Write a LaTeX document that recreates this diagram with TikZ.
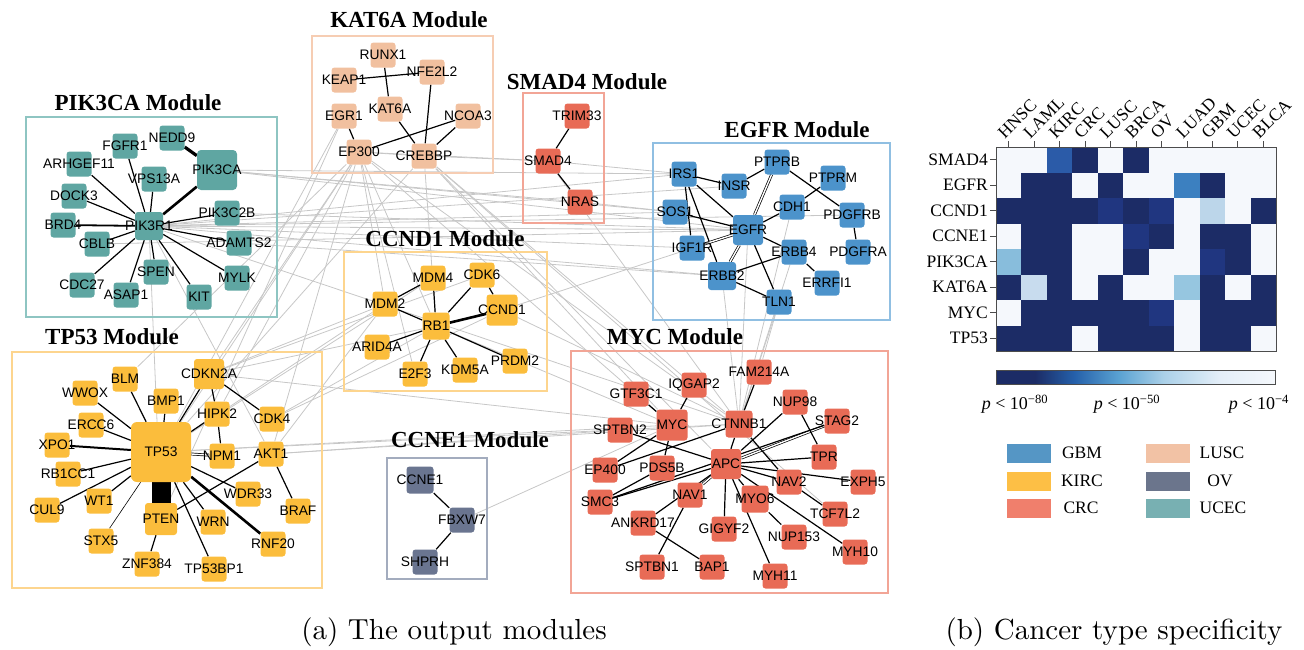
\documentclass[tikz,border=0pt]{standalone}
\usepackage{fontspec}
\newfontfamily\sansf{Liberation Sans}
\newfontfamily\serff{Liberation Serif}
\newfontfamily\capfont{lmroman10-regular.otf}
\usetikzlibrary{positioning}

\definecolor{ucec}{HTML}{5FA6A2}
\definecolor{kirc}{HTML}{FBBD3C}
\definecolor{crc}{HTML}{E86B56}
\definecolor{gbm}{HTML}{4C93CB}
\definecolor{lusc}{HTML}{F1C09F}
\definecolor{ov}{HTML}{6A7590}
\definecolor{ucecfr}{HTML}{8EC5C2}
\definecolor{kircfr}{HTML}{FDD58E}
\definecolor{crcfr}{HTML}{F2A596}
\definecolor{gbmfr}{HTML}{90BFE2}
\definecolor{luscfr}{HTML}{F6CDB3}
\definecolor{ovfr}{HTML}{A3ACBE}
\definecolor{lgbm}{HTML}{5596C5}
\definecolor{lkirc}{HTML}{FDBF45}
\definecolor{lcrc}{HTML}{F07F6C}
\definecolor{llusc}{HTML}{F2C2A5}
\definecolor{lov}{HTML}{6B758C}
\definecolor{lucec}{HTML}{78B0B2}
% heatmap cells
\definecolor{hmd}{HTML}{1C2C66}
\definecolor{hme}{HTML}{203680}
\definecolor{hma}{HTML}{2B5BA8}
\definecolor{hmb}{HTML}{3C80C0}
\definecolor{hml}{HTML}{BCD6EA}
\definecolor{hmp}{HTML}{88BDDC}
\definecolor{hmq}{HTML}{C8DCEE}
\definecolor{hmr}{HTML}{96C6E0}
\definecolor{hmw}{HTML}{F5F8FC}
\definecolor{cb1}{HTML}{2560AA}
\definecolor{cb2}{HTML}{5AA2D2}
\definecolor{cb3}{HTML}{AAD0E8}
\definecolor{cb4}{HTML}{E3EEF8}
\pgfdeclarehorizontalshading{cbar}{100bp}{color(0bp)=(hmd); color(25bp)=(hmd);
  color(32bp)=(hmd); color(39bp)=(cb1); color(47bp)=(cb2); color(55bp)=(cb3);
  color(65bp)=(cb4); color(75bp)=(hmw); color(100bp)=(hmw)}

\pgfdeclarelayer{edges}
\pgfsetlayers{edges,main}

% one gene box with its name on top
\newcommand{\gene}[4][]{\node[gene, fill=#4, #1, label={[glab]center:#2}] (#2) at (#3) {};}

\begin{document}
\begin{tikzpicture}[x=1pt, y=-1pt,
  gene/.style={rounded corners=3pt, minimum size=25pt, inner sep=0pt},
  glab/.style={font=\sansf\fontsize{13.8}{14}\selectfont, inner sep=0pt},
  modbox/.style={line width=2pt},
  modtitle/.style={font=\serff\bfseries\fontsize{23}{24}\selectfont},
  ppi/.style={line width=1.2pt},
  xlink/.style={line width=0.8pt, black!22},
  dbl/.style={double, double distance=1.4pt, line width=0.7pt},
  hmlab/.style={font=\serff\fontsize{17.5}{18}\selectfont, inner sep=1pt},
  swatch/.style={minimum width=45pt, minimum height=20pt, inner sep=0pt, draw=white, line width=0.6pt}]
\useasboundingbox (0,0) rectangle (1304,649);

% module frames and titles
\draw[modbox, ucecfr] (26,117) rectangle (277,317);
\node[modtitle] (t-pik3ca) at (138,103) {PIK3CA Module};
\draw[modbox, luscfr] (312,36) rectangle (493,173);
\node[modtitle] (t-kat6a) at (409,20) {KAT6A Module};
\draw[modbox, crcfr] (523,93) rectangle (604,223);
\node[modtitle] (t-smad4) at (587,82) {SMAD4 Module};
\draw[modbox, gbmfr] (653,143) rectangle (890,320);
\node[modtitle] (t-egfr) at (797,130) {EGFR Module};
\draw[modbox, kircfr] (344,252) rectangle (547,391);
\node[modtitle] (t-ccnd1) at (445,239) {CCND1 Module};
\draw[modbox, kircfr] (12,352) rectangle (322,588);
\node[modtitle] (t-tp53) at (112,337) {TP53 Module};
\draw[modbox, ovfr] (387,458) rectangle (487,579);
\node[modtitle] (t-ccne1) at (470,440) {CCNE1 Module};
\draw[modbox, crcfr] (571,351) rectangle (888,593);
\node[modtitle] (t-myc) at (675,337) {MYC Module};

% PIK3CA module
\gene{NEDD9}{172,138}{ucec}
\gene{FGFR1}{125,146}{ucec}
\gene[minimum size=40pt, rounded corners=4pt]{PIK3CA}{217,170}{ucec}
\gene{ARHGEF11}{79,164}{ucec}
\gene{VPS13A}{154,179}{ucec}
\gene{DOCK3}{74,196}{ucec}
\gene[minimum size=28pt]{PIK3R1}{149,226}{ucec}
\gene{PIK3C2B}{227,213}{ucec}
\gene{BRD4}{63,225}{ucec}
\gene{CBLB}{97,244}{ucec}
\gene{ADAMTS2}{239,243}{ucec}
\gene{SPEN}{156,272}{ucec}
\gene{MYLK}{237,278}{ucec}
\gene{CDC27}{82,285}{ucec}
\gene{ASAP1}{126,295}{ucec}
\gene{KIT}{199,297}{ucec}

% KAT6A module
\gene{RUNX1}{383,55}{lusc}
\gene{NFE2L2}{432,72}{lusc}
\gene{KEAP1}{344,80}{lusc}
\gene{EGR1}{344,116}{lusc}
\gene{KAT6A}{390,109}{lusc}
\gene{NCOA3}{468,116}{lusc}
\gene{EP300}{359,152}{lusc}
\gene{CREBBP}{424,156}{lusc}

% SMAD4 module
\gene{TRIM33}{577,116}{crc}
\gene{SMAD4}{548,161}{crc}
\gene{NRAS}{580,202}{crc}

% EGFR module
\gene{PTPRB}{777,162}{gbm}
\gene{IRS1}{684,174}{gbm}
\gene{INSR}{734,186}{gbm}
\gene{PTPRM}{833,178}{gbm}
\gene{CDH1}{792,207}{gbm}
\gene{SOS1}{675,212}{gbm}
\gene{PDGFRB}{852,215}{gbm}
\gene[minimum size=30pt]{EGFR}{748,230}{gbm}
\gene{IGF1R}{692,248}{gbm}
\gene{ERBB4}{794,252}{gbm}
\gene{PDGFRA}{858,252}{gbm}
\gene[minimum size=28pt]{ERBB2}{722,276}{gbm}
\gene{ERRFI1}{827,283}{gbm}
\gene{TLN1}{779,302}{gbm}

% CCND1 module
\gene{MDM4}{433,278}{kirc}
\gene{CDK6}{482,275}{kirc}
\gene[minimum size=31pt]{CCND1}{502,310}{kirc}
\gene{MDM2}{385,304}{kirc}
\gene[minimum size=27pt]{RB1}{436,326}{kirc}
\gene{ARID4A}{377,347}{kirc}
\gene{PRDM2}{515,361}{kirc}
\gene{KDM5A}{465,370}{kirc}
\gene{E2F3}{415,374}{kirc}

% TP53 module
\gene[minimum size=30pt]{CDKN2A}{209,374}{kirc}
\gene{BLM}{125,379}{kirc}
\gene{WWOX}{85,393}{kirc}
\gene{BMP1}{166,401}{kirc}
\gene{HIPK2}{217,414}{kirc}
\gene{CDK4}{272,419}{kirc}
\gene{ERCC6}{91,425}{kirc}
\gene[minimum size=60pt, rounded corners=6pt]{TP53}{161,452}{kirc}
\gene{XPO1}{57,445}{kirc}
\gene{NPM1}{222,456}{kirc}
\gene{AKT1}{271,454}{kirc}
\gene{RB1CC1}{68,474}{kirc}
\gene{WDR33}{248,494}{kirc}
\gene{WT1}{99,501}{kirc}
\gene{CUL9}{47,510}{kirc}
\gene[minimum size=32pt]{PTEN}{161,519}{kirc}
\gene{BRAF}{298,511}{kirc}
\gene{WRN}{213,522}{kirc}
\gene{STX5}{101,541}{kirc}
\gene{RNF20}{273,544}{kirc}
\gene{ZNF384}{147,564}{kirc}
\gene{TP53BP1}{214,569}{kirc}

% CCNE1 module
\gene[minimum size=27pt]{CCNE1}{420,480}{ov}
\gene{FBXW7}{462,520}{ov}
\gene{SHPRH}{425,562}{ov}

% MYC module
\gene{FAM214A}{759,372}{crc}
\gene{IQGAP2}{694,385}{crc}
\gene{GTF3C1}{636,394}{crc}
\gene{NUP98}{795,402}{crc}
\gene{STAG2}{837,421}{crc}
\gene[minimum size=31pt]{MYC}{672,425}{crc}
\gene[minimum size=27pt]{CTNNB1}{739,424}{crc}
\gene{SPTBN2}{620,430}{crc}
\gene{TPR}{824,457}{crc}
\gene[minimum size=30pt]{APC}{726,464}{crc}
\gene{PDS5B}{662,468}{crc}
\gene{EP400}{605,470}{crc}
\gene{NAV2}{789,482}{crc}
\gene{EXPH5}{863,482}{crc}
\gene{SMC3}{600,502}{crc}
\gene{NAV1}{690,495}{crc}
\gene[minimum size=27pt]{MYO6}{755,499}{crc}
\gene{TCF7L2}{835,514}{crc}
\gene{ANKRD17}{643,523}{crc}
\gene{GIGYF2}{724,529}{crc}
\gene{NUP153}{794,537}{crc}
\gene{MYH10}{855,552}{crc}
\gene{SPTBN1}{652,567}{crc}
\gene{BAP1}{712,567}{crc}
\gene{MYH11}{775,576}{crc}

\begin{pgfonlayer}{edges}
% links between modules
\foreach \a/\b in {PIK3CA/IRS1, PIK3CA/SOS1, PIK3CA/EGFR, PIK3CA/NRAS, PIK3R1/IRS1,
    PIK3R1/SOS1, PIK3R1/EGFR, PIK3R1/ERBB2, PIK3R1/IGF1R, PIK3R1/PDGFRB, PIK3R1/INSR,
    PIK3R1/CTNNB1, PIK3R1/AKT1, PIK3R1/PTEN, PIK3C2B/EGFR, CBLB/EGFR, ADAMTS2/ERBB2,
    EP300/TP53, EP300/CDKN2A, EP300/MDM2, EP300/RB1, EP300/HIPK2, EP300/MYC,
    EP300/CTNNB1, EP300/E2F3, EP300/AKT1, EP300/SMAD4, EP300/CREBBP, EP300/BLM,
    CREBBP/CTNNB1, CREBBP/MYC, CREBBP/SMAD4, CREBBP/TP53, CREBBP/TCF7L2, CREBBP/RB1,
    CREBBP/APC, EGR1/TP53, EGR1/PTEN, NRAS/SOS1, SMAD4/CTNNB1, SMAD4/IRS1,
    CDKN2A/MDM2, CDKN2A/CDK6, CDKN2A/RB1, CDK4/CCND1, CDK4/RB1, AKT1/MDM2,
    TP53/MDM2, TP53/MDM4, CCND1/CTNNB1, FBXW7/MYC, CTNNB1/EGFR, CTNNB1/CDH1,
    CTNNB1/ERBB2, CTNNB1/TLN1, CTNNB1/ERBB4, FAM214A/TLN1, MYC/TP53, CTNNB1/TP53,
    CTNNB1/AKT1, MYC/CDKN2A, SPTBN2/AKT1, RB1/MYC, CCND1/EGFR}
  \draw[xlink] (\a) -- (\b);
% PIK3CA module
\foreach \b in {FGFR1, ARHGEF11, VPS13A, DOCK3, CBLB, PIK3C2B, ADAMTS2, SPEN, MYLK,
    CDC27, ASAP1, KIT}
  \draw[ppi] (PIK3R1) -- (\b);
\draw[ppi, line width=1.8pt] (PIK3R1) -- (BRD4);
\draw[ppi, line width=2.6pt] (PIK3R1) -- (PIK3CA);
\draw[ppi, line width=3.2pt] (NEDD9) -- (PIK3CA);
% KAT6A and SMAD4 modules
\foreach \a/\b in {KEAP1/NFE2L2, RUNX1/KAT6A, NFE2L2/CREBBP, KAT6A/CREBBP, EGR1/EP300,
    EP300/NCOA3, NCOA3/CREBBP, TRIM33/SMAD4, SMAD4/NRAS}
  \draw[ppi] (\a) -- (\b);
% EGFR module
\foreach \a/\b in {IRS1/INSR, IRS1/EGFR, IRS1/IGF1R, IRS1/ERBB2, INSR/PTPRB,
    PTPRB/PDGFRB, PTPRM/CDH1, CDH1/EGFR, SOS1/EGFR, EGFR/ERBB4, EGFR/TLN1,
    ERBB4/ERBB2, ERBB4/ERRFI1, ERBB2/TLN1, PDGFRB/PDGFRA}
  \draw[ppi] (\a) -- (\b);
\foreach \a/\b in {PTPRB/EGFR, EGFR/IGF1R, EGFR/ERBB2}
  \draw[dbl] (\a) -- (\b);
% CCND1 module
\foreach \b in {MDM4, CDK6, MDM2, ARID4A, PRDM2, KDM5A, E2F3}
  \draw[ppi] (RB1) -- (\b);
\draw[ppi] (MDM2) -- (MDM4);
\draw[ppi] (CDK6) -- (CCND1);
\draw[ppi, line width=2.6pt] (RB1) -- (CCND1);
% TP53 module
\foreach \b in {BLM, WWOX, BMP1, ERCC6, RB1CC1, CUL9, WT1, WRN, TP53BP1, WDR33, HIPK2,
    CDKN2A}
  \draw[ppi] (TP53) -- (\b);
\draw[ppi, line width=2pt] (TP53) -- (XPO1);
\draw[ppi, line width=2.6pt] (TP53) -- (RNF20);
\draw[ppi, line width=0.6pt] (TP53) -- (STX5);
\draw[dbl] (TP53) -- (NPM1);
\draw[line width=19pt] (TP53) -- (PTEN);
\foreach \a/\b in {CDKN2A/HIPK2, CDKN2A/CDK4, HIPK2/NPM1, AKT1/PTEN, AKT1/BRAF,
    PTEN/ZNF384}
  \draw[ppi] (\a) -- (\b);
% CCNE1 module
\draw[ppi] (CCNE1) -- (FBXW7);
\draw[ppi] (FBXW7) -- (SHPRH);
% MYC module
\foreach \b in {CTNNB1, SPTBN2, NUP98, TPR, EXPH5, NAV2, SMC3, NAV1, ANKRD17, GIGYF2,
    MYO6, MYH11, MYH10}
  \draw[ppi] (APC) -- (\b);
\draw[dbl] (APC) -- (STAG2);
\draw[dbl] (APC) -- (NAV1);
\foreach \a/\b in {MYC/IQGAP2, MYC/GTF3C1, MYC/EP400, MYC/PDS5B, CTNNB1/FAM214A,
    CTNNB1/EP400, CTNNB1/NAV2, NUP98/TPR, NAV2/TCF7L2, MYO6/NUP153, NAV1/SPTBN1,
    ANKRD17/BAP1, SMC3/PDS5B, SMC3/STAG2}
  \draw[ppi] (\a) -- (\b);
\end{pgfonlayer}

% heat map
\foreach \row [count=\i from 0] in {{w,w,a,d,w,d,w,w,w,w,w}, {w,d,d,w,d,w,w,b,d,w,w},
    {d,d,d,d,e,d,e,w,l,w,d}, {w,d,d,w,w,e,d,w,d,d,w}, {p,d,d,w,w,d,w,w,e,d,w},
    {d,q,d,w,d,w,w,r,d,w,d}, {w,d,d,d,d,d,e,w,d,d,d}, {d,d,d,w,d,d,d,w,d,d,w}}
  \foreach \c [count=\j from 0] in \row
    \fill[hm\c] ({996+\j*25.45},{147+\i*25.5}) rectangle ++(25.6,25.7);
\draw[black!70, line width=0.6pt] (996,147) rectangle (1276,351);
\foreach \g [count=\i from 0] in {SMAD4, EGFR, CCND1, CCNE1, PIK3CA, KAT6A, MYC, TP53} {
  \draw[black!70, line width=0.6pt] (990,{159.75+\i*25.5}) -- (996,{159.75+\i*25.5});
  \node[hmlab, anchor=east] (row-\g) at (989,{159.75+\i*25.5}) {\g};
}
\foreach \t [count=\j from 0] in {HNSC, LAML, KIRC, CRC, LUSC, BRCA, OV, LUAD, GBM, UCEC, BLCA} {
  \draw[black!70, line width=0.6pt] ({1008.7+\j*25.45},141) -- ({1008.7+\j*25.45},147);
  \node[hmlab, anchor=base west, rotate=45] (col-\t) at ({1004+\j*25.45},140) {\t};
}

% colour bar
\shade[shading=cbar] (996,370) rectangle (1275,384);
\draw[black!70, line width=0.6pt] (996,370) rectangle (1275,384);
\node[font=\serff\fontsize{18}{18}\selectfont] (p80) at (1015,404) {\textit{p} < 10\textsuperscript{−80}};
\node[font=\serff\fontsize{18}{18}\selectfont] (p50) at (1127,404) {\textit{p} < 10\textsuperscript{−50}};
\node[font=\serff\fontsize{18}{18}\selectfont] (p4) at (1259,404) {\textit{p} < 10\textsuperscript{−4}};

% legend
\node[swatch, fill=lgbm] (sw-gbm) at (1029,453) {};
\node[hmlab] (lg-gbm) at (1082,453) {GBM};
\node[swatch, fill=lkirc] (sw-kirc) at (1029,481) {};
\node[hmlab] (lg-kirc) at (1082,481) {KIRC};
\node[swatch, fill=lcrc] (sw-crc) at (1029,508) {};
\node[hmlab] (lg-crc) at (1081,508) {CRC};
\node[swatch, fill=llusc] (sw-lusc) at (1168,453) {};
\node[hmlab] (lg-lusc) at (1222,453) {LUSC};
\node[swatch, fill=lov] (sw-ov) at (1168,481) {};
\node[hmlab] (lg-ov) at (1220,481) {OV};
\node[swatch, fill=lucec] (sw-ucec) at (1168,508) {};
\node[hmlab] (lg-ucec) at (1223,508) {UCEC};

% captions
\node[font=\capfont\fontsize{29}{30}\selectfont] (cap-a) at (454,632) {(a) The output modules};
\node[font=\capfont\fontsize{29}{30}\selectfont] (cap-b) at (1114,632) {(b) Cancer type specificity};
\end{tikzpicture}
\end{document}
